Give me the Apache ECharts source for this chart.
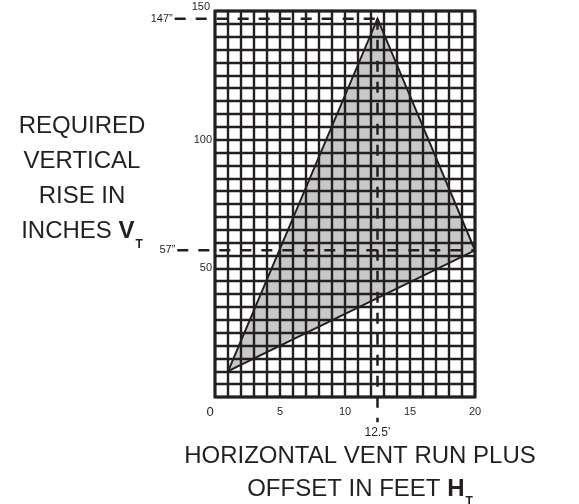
<!DOCTYPE html>
<html>
<head>
<meta charset="utf-8">
<script src="https://cdn.jsdelivr.net/npm/echarts@6/dist/echarts.min.js"></script>
<style>
  html, body { margin: 0; padding: 0; background: #fff; }
  #chart { width: 579px; height: 504px; }
</style>
</head>
<body>
<div id="chart"></div>
<script>
// axis ranges and labelled ticks
const xRange = [0, 20];
const yRange = [0, 150];
const xLabelled = [0, 5, 10, 15, 20];
const yLabelled = [50, 100, 150];

// shaded region (HT, VT)
const triangle = [[1, 10], [12.5, 147], [20, 57]];

// dashed guides: [x1, y1, x2, y2]
const guides = [
  [-3.1, 147, 12.5, 147],
  [-2.9, 57, 20, 57],
  [12.5, 147, 12.5, -9.8]
];
const guideLabels = ['147\u201d', '57\u201d', '12.5\u2019'];

const ink = '#231f20';
const chart = echarts.init(document.getElementById('chart'));

// title text with a bold letter and a small bold subscript
function titleStyle(lh, subPad) {
  return {
    m: { fontSize: 24, lineHeight: lh, verticalAlign: 'top', fill: ink },
    b: { fontSize: 24, fontWeight: 'bold', lineHeight: lh, verticalAlign: 'top', fill: ink },
    s: { fontSize: 12, fontWeight: 'bold', lineHeight: 12, verticalAlign: 'top', padding: [subPad, 0, 0, 1], fill: ink }
  };
}

chart.setOption({
  animation: false,
  textStyle: { fontFamily: 'Liberation Sans, Arial, sans-serif', color: ink },
  grid: {
    left: 215, right: 104, top: 11, bottom: 107,
    show: true, borderColor: ink, borderWidth: 3, backgroundColor: 'transparent'
  },
  xAxis: {
    type: 'value', min: xRange[0], max: xRange[1], interval: 1, z: 3,
    axisLine: { show: false }, axisTick: { show: false },
    splitLine: { show: true, lineStyle: { color: ink, width: 2.4 } },
    axisLabel: {
      margin: 9, fontSize: 11, color: ink,
      formatter: v => {
        if (!xLabelled.includes(v)) return '';
        return v === 0 ? '{z|0}' : String(v);
      },
      rich: { z: { fontSize: 13, padding: [0, 10, 8, 0], color: ink } }
    }
  },
  yAxis: {
    type: 'value', min: yRange[0], max: yRange[1], interval: 5, z: 3,
    axisLine: { show: false }, axisTick: { show: false },
    splitLine: { show: true, lineStyle: { color: ink, width: 2.4 } },
    axisLabel: {
      margin: 3, fontSize: 11, color: ink,
      formatter: v => {
        if (!yLabelled.includes(v)) return '';
        return v === 150 ? '{t|150}' : String(v);
      },
      rich: { t: { fontSize: 11, padding: [0, 2, 9, 0], color: ink } }
    }
  },
  graphic: [
    {
      type: 'text', x: 82, y: 114,
      style: {
        text: '{m|REQUIRED}\n{m|VERTICAL}\n{m|RISE IN}\n{m|INCHES }{b|V}{s|T}',
        align: 'center', verticalAlign: 'top',
        font: '24px Liberation Sans', fill: ink,
        rich: titleStyle(35, 20)
      }
    },
    {
      type: 'text', x: 360, y: 444,
      style: {
        text: '{m|HORIZONTAL VENT RUN PLUS}\n{m|OFFSET IN FEET }{b|H}{s|T}',
        align: 'center', verticalAlign: 'top',
        font: '24px Liberation Sans', fill: ink,
        rich: titleStyle(33, 19)
      }
    }
  ],
  series: [
    {
      type: 'custom', z: 2, silent: true,
      data: [0],
      renderItem: (params, api) => ({
        type: 'polygon',
        shape: { points: triangle.map(p => api.coord(p)) },
        style: { fill: '#c8c8c8', stroke: null }
      })
    },
    {
      type: 'custom', z: 5, silent: true,
      data: [0],
      renderItem: (params, api) => ({
        type: 'polygon',
        shape: { points: triangle.map(p => api.coord(p)) },
        style: { fill: null, stroke: ink, lineWidth: 2 }
      })
    },
    {
      type: 'custom', z: 6, silent: true, clip: false,
      data: guides,
      renderItem: (params, api) => {
        const i = params.dataIndex;
        const a = api.coord([api.value(0), api.value(1)]);
        const b = api.coord([api.value(2), api.value(3)]);
        const vertical = api.value(0) === api.value(2);
        const labelPos = vertical ? b : a;
        return {
          type: 'group',
          children: [
            {
              type: 'line',
              shape: { x1: a[0], y1: a[1], x2: b[0], y2: b[1] },
              style: { stroke: ink, lineWidth: 2.5, lineDash: [11, 10] }
            },
            {
              type: 'text',
              x: vertical ? labelPos[0] : labelPos[0] - 2,
              y: vertical ? labelPos[1] + 4 : labelPos[1],
              style: {
                text: guideLabels[i],
                align: vertical ? 'center' : 'right',
                verticalAlign: vertical ? 'top' : 'middle',
                font: (vertical ? '12px' : '11px') + ' Liberation Sans',
                fill: ink
              }
            }
          ]
        };
      }
    }
  ]
});
</script>
</body>
</html>
